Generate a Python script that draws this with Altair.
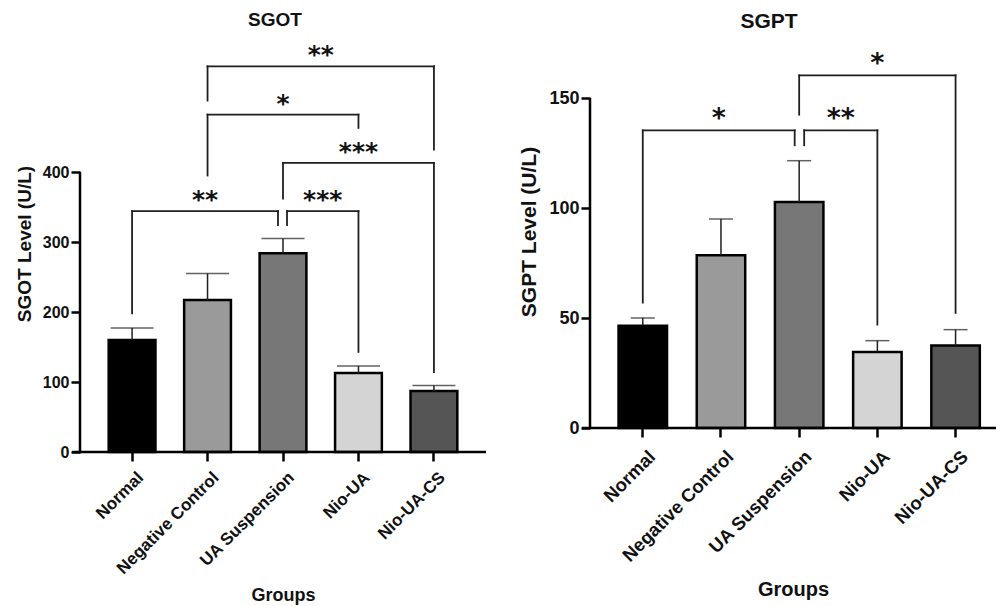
import altair as alt
import pandas as pd

# ---------------- data ----------------
GROUPS = ["Normal", "Negative Control", "UA Suspension", "Nio-UA", "Nio-UA-CS"]
BAR_FILLS = ["#000000", "#9a9a9a", "#777777", "#d4d4d4", "#555555"]

SGOT_MEAN = [160, 217, 284, 113, 87]
SGOT_UPPER = [177, 255, 305, 123, 95]
SGOT_TICKS = [0, 100, 200, 300, 400]

SGPT_MEAN = [46.5, 78.5, 102.7, 34.5, 37.5]
SGPT_UPPER = [50, 95, 121.5, 39.7, 44.7]
SGPT_TICKS = [0, 50, 100, 150]

SGOT_CMP_FROM = ["Normal", "UA Suspension", "UA Suspension", "Negative Control", "Negative Control"]
SGOT_CMP_TO = ["UA Suspension", "Nio-UA", "Nio-UA-CS", "Nio-UA", "Nio-UA-CS"]
SGOT_CMP_TOP = [344, 344, 413, 482, 551]
SGOT_CMP_LEFT_END = [198, 324, 362, 395, 502]
SGOT_CMP_RIGHT_END = [324, 143, 114, 463, 432]
SGOT_CMP_STARS = ["**", "***", "***", "*", "**"]

SGPT_CMP_FROM = ["Normal", "UA Suspension", "UA Suspension"]
SGPT_CMP_TO = ["UA Suspension", "Nio-UA", "Nio-UA-CS"]
SGPT_CMP_TOP = [135.3, 135.3, 160.3]
SGPT_CMP_LEFT_END = [57, 128.5, 142.4]
SGPT_CMP_RIGHT_END = [128.5, 47, 52.3]
SGPT_CMP_STARS = ["*", "**", "*"]

# ---------------- styles ----------------
FONT = "Liberation Sans"
TXT = "#111111"
LINE = "#1f1f1f"
PAD_INNER = 0.38

SGOT_LEG_DX = [(0, -5), (4, 0), (0, 0), (0, 0), (0, 0)]
SGPT_LEG_DX = [(0, -4.5), (5, 0), (0, 0)]

LEFT = dict(W=406, H=417, ymax=417 / 0.7, po=0.38, align=0.5, xlab=17, xlabpad=8, xoff=3,
            xtitle=18, xtitlepad=10, ylab=16, ytitle=19, ytitlepad=8, cap=43, star=25, stardy=-3,
            title=19, title_dx=-8, title_offset=5)
RIGHT = dict(W=406, H=393, ymax=393 / 2.2, po=0.286, align=0.638, xlab=18.5, xlabpad=10, xoff=3,
             xtitle=20, xtitlepad=15, ylab=18, ytitle=21, ytitlepad=9, cap=24, star=27, stardy=-3,
             title=21, title_dx=-24, title_offset=3)


def panel(title, ytitle, mean, upper, ticks, cmp, legdx, st):
    df = pd.DataFrame({"group": GROUPS, "mean": mean, "upper": upper})
    xscale = alt.Scale(domain=GROUPS, paddingInner=PAD_INNER, paddingOuter=st["po"], align=st["align"])
    yscale = alt.Scale(domain=[0, st["ymax"]], nice=False)
    step = st["W"] / (len(GROUPS) - PAD_INNER + 2 * st["po"])
    xaxis = alt.Axis(domain=False, grid=False, ticks=True, tickColor="black", tickWidth=2.5,
                     tickSize=9, labelAngle=-45, labelAlign="right", labelBaseline="top",
                     labelFont=FONT, labelFontWeight="bold", labelFontSize=st["xlab"],
                     labelColor=TXT, labelPadding=st["xlabpad"], labelOffset=st["xoff"],
                     titleFont=FONT, titleFontWeight="bold", titleFontSize=st["xtitle"],
                     titleColor=TXT, titlePadding=st["xtitlepad"])
    yaxis = alt.Axis(values=ticks, domain=False, grid=False, tickColor="black", tickWidth=2.5,
                     tickSize=9, labelFont=FONT, labelFontWeight="bold", labelFontSize=st["ylab"],
                     labelColor=TXT, labelPadding=2, titleFont=FONT, titleFontWeight="bold",
                     titleFontSize=st["ytitle"], titleColor=TXT, titlePadding=st["ytitlepad"])

    def X(field, **kw):
        return alt.X(f"{field}:N", scale=xscale, axis=xaxis, title="Groups", **kw)

    def Y(field):
        return alt.Y(f"{field}:Q", scale=yscale, axis=yaxis, title=ytitle)

    base = alt.Chart(df)
    bars = base.mark_bar(stroke="black", strokeWidth=2.5).encode(
        x=X("group"), y=Y("mean"),
        fill=alt.Fill("group:N", scale=alt.Scale(domain=GROUPS, range=BAR_FILLS), legend=None))
    err = base.mark_rule(color=LINE, strokeWidth=1.5).encode(
        x=X("group", bandPosition=0.5), y=Y("mean"), y2=alt.Y2("upper"))
    cap = base.mark_tick(color=LINE, thickness=1.5, size=st["cap"]).encode(
        x=X("group"), y=Y("upper"))

    one = alt.Chart(pd.DataFrame({"v": [0]}))
    yline = one.mark_rule(color="black", strokeWidth=2.5).encode(
        x=alt.value(0),
        y=alt.Y(datum=ticks[0], scale=yscale, axis=yaxis, title=ytitle),
        y2=alt.Y2(datum=ticks[-1]))
    xline = one.mark_rule(color="black", strokeWidth=2.5).encode(
        x=alt.value(-8), x2=alt.value(st["W"]),
        y=alt.Y(datum=0, scale=yscale, axis=yaxis, title=ytitle))

    cdf = pd.DataFrame({"from": cmp[0], "to": cmp[1], "top": cmp[2], "lend": cmp[3],
                        "rend": cmp[4], "stars": cmp[5], "id": list(range(len(cmp[0])))})
    layers = [bars, err, cap, yline, xline]
    for i in range(len(cdf)):
        dl, dr = legdx[i]
        k = GROUPS.index(cmp[1][i]) - GROUPS.index(cmp[0][i])
        b = alt.Chart(cdf).transform_filter(alt.datum.id == i)
        h = b.mark_rule(color=LINE, strokeWidth=1.8, strokeCap="square", xOffset=dl, x2Offset=dr).encode(
            x=X("from", bandPosition=0.5), x2=alt.X2("to", bandPosition=0.5), y=Y("top"))
        lleg = b.mark_rule(color=LINE, strokeWidth=1.8, strokeCap="square", xOffset=dl).encode(
            x=X("from", bandPosition=0.5), y=Y("top"), y2=alt.Y2("lend"))
        rleg = b.mark_rule(color=LINE, strokeWidth=1.8, strokeCap="square", xOffset=dr).encode(
            x=X("to", bandPosition=0.5), y=Y("top"), y2=alt.Y2("rend"))
        star = b.mark_text(font="DejaVu Sans", fontWeight="bold", fontSize=st["star"], color=TXT,
                           dx=k * step / 2 + (dl + dr) / 2, dy=st["stardy"], baseline="alphabetic",
                           align="center").encode(
            x=X("from", bandPosition=0.5), y=Y("top"), text="stars:N")
        layers += [h, lleg, rleg, star]

    return alt.layer(*layers).properties(
        width=st["W"], height=st["H"],
        title=alt.TitleParams(text=title, font=FONT, fontSize=st["title"], fontWeight="bold",
                              color=TXT, dx=st["title_dx"], offset=st["title_offset"], anchor="middle"))


left = panel("SGOT", "SGOT Level (U/L)", SGOT_MEAN, SGOT_UPPER, SGOT_TICKS,
             (SGOT_CMP_FROM, SGOT_CMP_TO, SGOT_CMP_TOP, SGOT_CMP_LEFT_END, SGOT_CMP_RIGHT_END, SGOT_CMP_STARS),
             SGOT_LEG_DX, LEFT)
right = panel("SGPT", "SGPT Level (U/L)", SGPT_MEAN, SGPT_UPPER, SGPT_TICKS,
              (SGPT_CMP_FROM, SGPT_CMP_TO, SGPT_CMP_TOP, SGPT_CMP_LEFT_END, SGPT_CMP_RIGHT_END, SGPT_CMP_STARS),
              SGPT_LEG_DX, RIGHT)

chart = alt.hconcat(left, right, spacing=30).properties(
    padding={"left": 7, "top": 3, "right": 0, "bottom": 0},
    background="white",
).configure_view(strokeWidth=0)

chart.save("out.html", embed_options={"renderer": "svg", "actions": False})
